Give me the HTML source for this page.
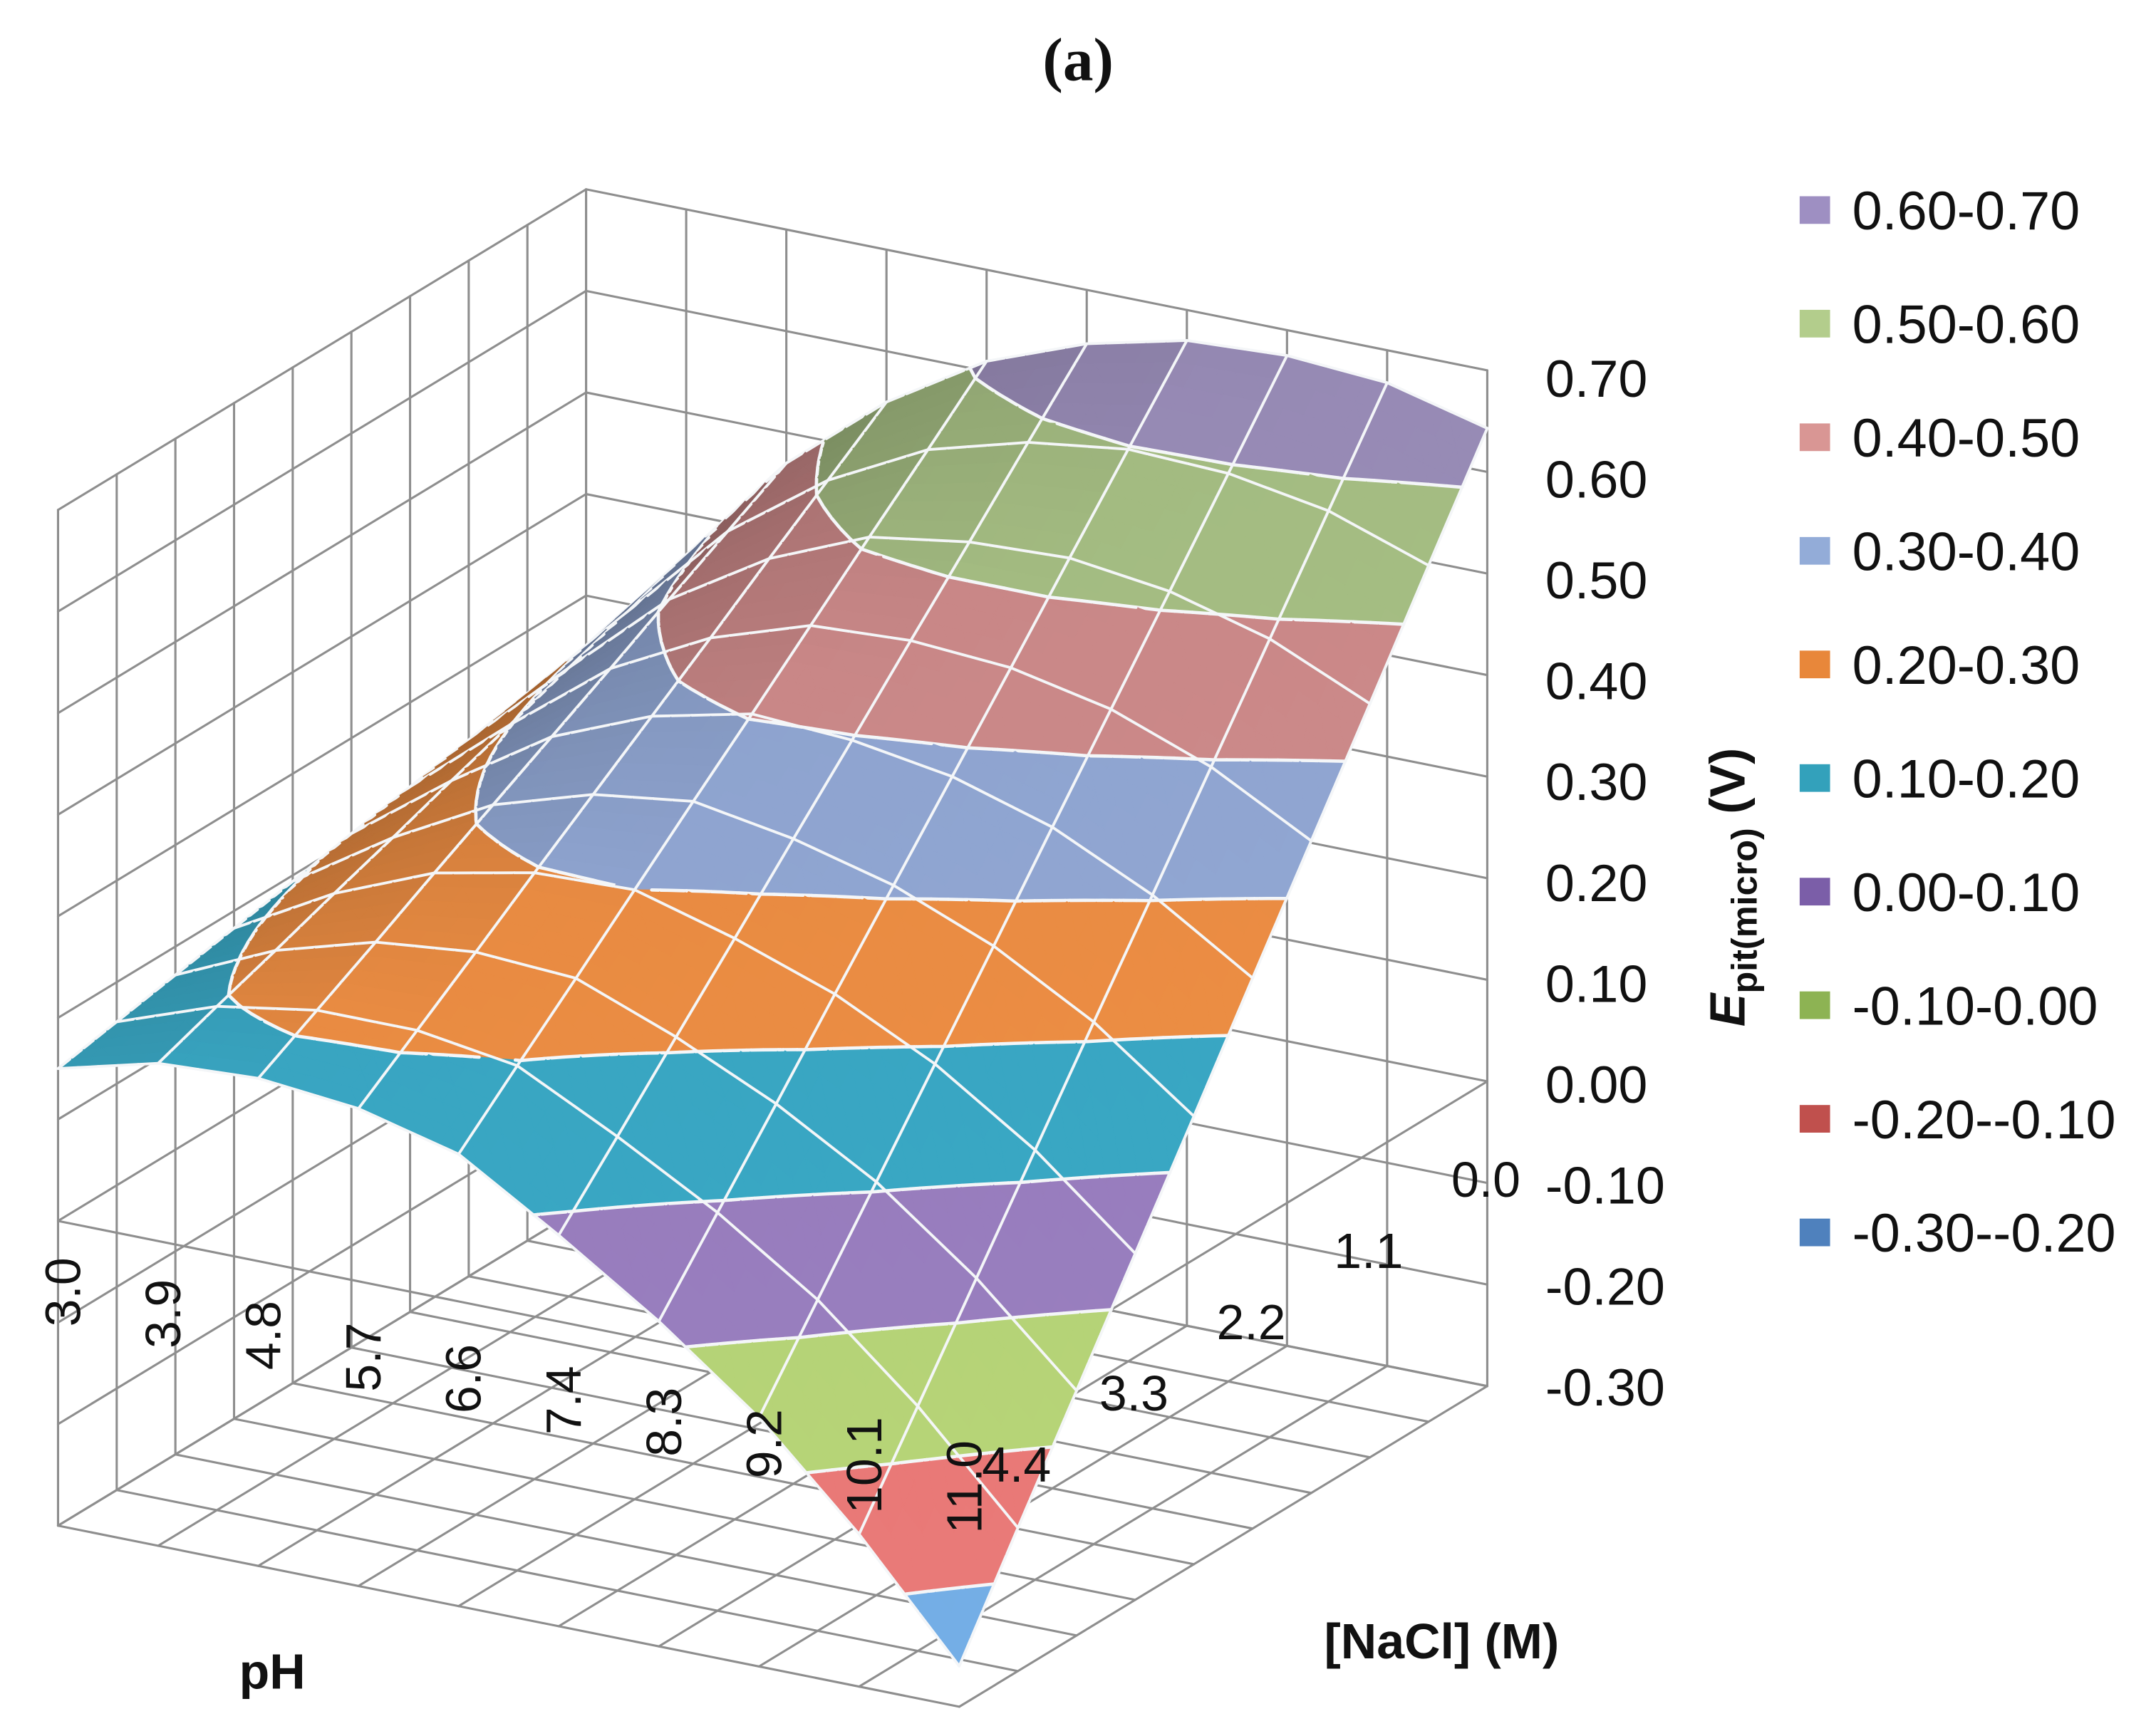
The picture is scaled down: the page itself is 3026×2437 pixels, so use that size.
<!DOCTYPE html>
<html><head><meta charset="utf-8"><title>Epit(micro) surface chart</title>
<style>
html,body{margin:0;padding:0;background:#fff;}
svg{display:block;}
text{font-family:"Liberation Sans",sans-serif;fill:#111;}
</style></head>
<body>
<svg id="chart" xmlns="http://www.w3.org/2000/svg" width="3026" height="2437" viewBox="0 0 1559.8 1256.2" preserveAspectRatio="none">
  <rect x="0" y="0" width="1559.8" height="1256.2" fill="#fff"/>
  <text x="780" y="58" text-anchor="middle" style="font-family:'Liberation Serif',serif;font-weight:bold;font-size:44px">(a)</text>
  <g id="walls"></g>
  <g id="surface"></g>
  <g id="axes"></g>
  <text transform="translate(1262,642) rotate(-90)" text-anchor="middle" style="font-weight:bold;font-size:36px"><tspan font-style="italic">E</tspan><tspan font-size="26" dy="9">pit(micro)</tspan><tspan dy="-9"> (V)</tspan></text>
  <text x="197" y="1222" text-anchor="middle" style="font-weight:bold;font-size:36px">pH</text>
  <text x="1043" y="1200" text-anchor="middle" style="font-weight:bold;font-size:36px">[NaCl] (M)</text>
  <g id="legend"></g>
</svg>
<script>
const phCategories = ['3.0','3.9','4.8','5.7','6.6','7.4','8.3','9.2','10.1','11.0'];
const naclCategories = ['0.0','0.55','1.1','1.65','2.2','2.75','3.3','3.85','4.4','4.95'];
const naclTickLabels = ['0.0','1.1','2.2','3.3','4.4'];
const zTickValues = [0.7,0.6,0.5,0.4,0.3,0.2,0.1,0.0,-0.1,-0.2,-0.3];
const bandLows = [0.6,0.5,0.4,0.3,0.2,0.1,0.0,-0.1,-0.2,-0.3];
const legendLabels = ['0.60-0.70','0.50-0.60','0.40-0.50','0.30-0.40','0.20-0.30','0.10-0.20','0.00-0.10','-0.10-0.00','-0.20--0.10','-0.30--0.20'];
const legendColors = ['#9e8fc2','#b3cd8c','#d99694','#93acd8','#e8873a','#33a1bb','#7b5ea8','#8db353','#c0504d','#4f81bd'];
const surfaceColors = ['#9c8fbb','#a9c286','#d08c8c','#93a9d6','#ef8f44','#3aa9c6','#9a7fc0','#b7d578','#ea7a78','#74aee6'];
// surface values: rows = pH categories, columns = NaCl categories
const zPH = [
 [0.250,0.239,0.228,0.217,0.206,0.194,0.183,0.172,0.161,0.150],
 [0.360,0.339,0.319,0.298,0.278,0.257,0.237,0.216,0.196,0.175],
 [0.470,0.438,0.406,0.373,0.341,0.309,0.277,0.244,0.212,0.180],
 [0.550,0.508,0.466,0.423,0.381,0.339,0.297,0.254,0.212,0.170],
 [0.610,0.558,0.507,0.455,0.403,0.352,0.300,0.248,0.197,0.145],
 [0.647,0.585,0.522,0.460,0.397,0.335,0.272,0.210,0.147,0.085],
 [0.670,0.598,0.526,0.453,0.381,0.309,0.237,0.164,0.092,0.020],
 [0.675,0.594,0.513,0.432,0.351,0.269,0.188,0.107,0.026,-0.055],
 [0.668,0.577,0.486,0.395,0.304,0.214,0.123,0.032,-0.059,-0.150],
 [0.643,0.543,0.442,0.342,0.242,0.141,0.041,-0.059,-0.159,-0.260]
];

const NS='http://www.w3.org/2000/svg';
const zMin=-0.3, zMax=0.7;
function P(u,v,z){ return [424+652*u-382*v, 872+131*u+232*v-735*(z-zMin)]; }
function uScale(i){ return i/(phCategories.length-1); }
function vScale(j){ return j/(naclCategories.length-1); }
function zAt(u,v){
  const nI=phCategories.length-1, nJ=naclCategories.length-1;
  let fi=u*nI, fj=v*nJ;
  let i=Math.min(Math.floor(fi),nI-1), j=Math.min(Math.floor(fj),nJ-1);
  const a=fi-i, b=fj-j;
  return zPH[i][j]*(1-a)*(1-b)+zPH[i+1][j]*a*(1-b)+zPH[i][j+1]*(1-a)*b+zPH[i+1][j+1]*a*b;
}
function line(parent,x1,y1,x2,y2,stroke,w,name){
  const el=document.createElementNS(NS,'line');
  el.setAttribute('x1',x1.toFixed(2));el.setAttribute('y1',y1.toFixed(2));
  el.setAttribute('x2',x2.toFixed(2));el.setAttribute('y2',y2.toFixed(2));
  el.setAttribute('stroke',stroke);el.setAttribute('stroke-width',w);
  el.setAttribute('stroke-linecap','round');
  
  
  parent.appendChild(el);
  return el;
}
const walls=document.getElementById('walls');
const GC='#8e8e8e', GW=1.6;
// left wall (u=0)
for(let j=0;j<naclCategories.length;j++){
  const a=P(0,vScale(j),zMin), b=P(0,vScale(j),zMax);
  line(walls,a[0],a[1],b[0],b[1],GC,GW,'left-wall-gridline');
}
// back wall (v=0)
for(let i=0;i<phCategories.length;i++){
  const a=P(uScale(i),0,zMin), b=P(uScale(i),0,zMax);
  line(walls,a[0],a[1],b[0],b[1],GC,GW,'back-wall-gridline');
}
for(const t of zTickValues){
  const a=P(0,1,t), b=P(0,0,t), c=P(1,0,t);
  line(walls,a[0],a[1],b[0],b[1],GC,GW,'left-wall-z-gridline');
  line(walls,b[0],b[1],c[0],c[1],GC,GW,'back-wall-z-gridline');
}
// floor
for(let i=0;i<phCategories.length;i++){
  const a=P(uScale(i),0,zMin), b=P(uScale(i),1,zMin);
  line(walls,a[0],a[1],b[0],b[1],GC,GW,'floor-gridline');
}
for(let j=0;j<naclCategories.length;j++){
  const a=P(0,vScale(j),zMin), b=P(1,vScale(j),zMin);
  line(walls,a[0],a[1],b[0],b[1],GC,GW,'floor-gridline');
}
// base plane at z=0
{
  const a=P(0,1,0), b=P(1,1,0), c=P(1,0,0);
  line(walls,a[0],a[1],b[0],b[1],GC,GW,'base-plane-edge');
  line(walls,b[0],b[1],c[0],c[1],GC,GW,'base-plane-edge');
}

// surface
const surf=document.getElementById('surface');
function hexRgb(h){return [parseInt(h.substr(1,2),16),parseInt(h.substr(3,2),16),parseInt(h.substr(5,2),16)];}
function shade(h,f){const c=hexRgb(h);return 'rgb('+c.map(x=>Math.max(0,Math.min(255,Math.round(x*f)))).join(',')+')';}
function clip(poly,lo,hi){
  function clipOne(p,lim,keepAbove){
    const out=[];
    for(let k=0;k<p.length;k++){
      const A=p[k],B=p[(k+1)%p.length];
      const ina=keepAbove?A.z>=lim:A.z<=lim, inb=keepAbove?B.z>=lim:B.z<=lim;
      if(ina) out.push(A);
      if(ina!==inb){
        const t=(lim-A.z)/(B.z-A.z);
        out.push({u:A.u+(B.u-A.u)*t,v:A.v+(B.v-A.v)*t,z:lim});
      }
    }
    return out;
  }
  let r=clipOne(poly,lo,true); if(r.length<3) return r;
  return clipOne(r,hi,false);
}
const SUB=5;
const nI=phCategories.length-1, nJ=naclCategories.length-1;
const NU=nI*SUB, NV=nJ*SUB;
const prims=[];
for(let a=0;a<NU;a++){
  for(let b=0;b<NV;b++){
    const u0=a/NU,u1=(a+1)/NU,v0=b/NV,v1=(b+1)/NV;
    const V00={u:u0,v:v0,z:zAt(u0,v0)},V10={u:u1,v:v0,z:zAt(u1,v0)},V01={u:u0,v:v1,z:zAt(u0,v1)},V11={u:u1,v:v1,z:zAt(u1,v1)};
    const dzdu=((V10.z-V00.z)+(V11.z-V01.z))/2/(u1-u0);
    const f=1-0.27*Math.max(0,Math.min(1,dzdu/0.9))-0.06*(1-(u0+v0)/2);
    const depth=u0+v0;
    prims.push({d:depth,type:'tri',pts:[V00,V10,V11],f:f});
    prims.push({d:depth,type:'tri',pts:[V00,V11,V01],f:f});
    // contour segments
    for(const tri of [[V00,V10,V11],[V00,V11,V01]]){
      for(let k=1;k<bandLows.length;k++){
        const L=bandLows[k-1]; // levels 0.6..-0.2
        const cr=[];
        for(let e=0;e<3;e++){
          const A=tri[e],B=tri[(e+1)%3];
          if((A.z-L)*(B.z-L)<0){const t=(L-A.z)/(B.z-A.z);cr.push({u:A.u+(B.u-A.u)*t,v:A.v+(B.v-A.v)*t,z:L});}
        }
        if(cr.length===2) prims.push({d:depth+0.0001,type:'seg',a:cr[0],b:cr[1],w:2.4,name:'contour-line'});
      }
    }
    if(a%SUB===0) prims.push({d:depth+0.0002,type:'seg',a:V00,b:V01,w:2,name:'mesh-line-ph'});
    if(b%SUB===0) prims.push({d:depth+0.0002,type:'seg',a:V00,b:V10,w:2,name:'mesh-line-nacl'});
    if(a===NU-1) prims.push({d:depth+0.0002,type:'seg',a:V10,b:V11,w:2,name:'mesh-line-ph'});
    if(b===NV-1) prims.push({d:depth+0.0002,type:'seg',a:V01,b:V11,w:2,name:'mesh-line-nacl'});
  }
}
prims.sort((p,q)=>p.d-q.d);
for(const pr of prims){
  if(pr.type==='tri'){
    for(let k=0;k<bandLows.length;k++){
      const lo=bandLows[k], hi=lo+0.1;
      const poly=clip(pr.pts,k===bandLows.length-1?-9:lo,k===0?9:hi);
      if(poly.length<3) continue;
      const col=shade(surfaceColors[k],pr.f);
      const el=document.createElementNS(NS,'polygon');
      el.setAttribute('points',poly.map(p=>{const s=P(p.u,p.v,p.z);return s[0].toFixed(2)+','+s[1].toFixed(2);}).join(' '));
      el.setAttribute('fill',col);el.setAttribute('stroke',col);el.setAttribute('stroke-width','0.6');
      
      
      surf.appendChild(el);
    }
  } else {
    const s=P(pr.a.u,pr.a.v,pr.a.z), e=P(pr.b.u,pr.b.v,pr.b.z);
    line(surf,s[0],s[1],e[0],e[1],'#f4f6f8',pr.w,pr.name);
  }
}

// axes labels
const axes=document.getElementById('axes');
function txt(parent,x,y,s,size,anchor,rot,name){
  const el=document.createElementNS(NS,'text');
  if(rot){el.setAttribute('transform','translate('+x.toFixed(1)+','+y.toFixed(1)+') rotate('+rot+')');}
  else{el.setAttribute('x',x.toFixed(1));el.setAttribute('y',y.toFixed(1));}
  el.setAttribute('text-anchor',anchor);
  el.setAttribute('style','font-size:'+size+'px');
  el.textContent=s;
  
  
  parent.appendChild(el);
  return el;
}
for(let k=0;k<zTickValues.length;k++){
  const t=zTickValues[k];
  const y=274+(0.7-t)*730;
  txt(axes,1118,y+13,t.toFixed(2),38,'start',0,'z-tick-label');
}
for(let i=0;i<phCategories.length;i++){
  const u=uScale(i); const f=P(u,1,zMin);
  txt(axes,f[0]+3+13,f[1]-169+10*u,phCategories[i],36,'middle',-90,'ph-tick-label');
}
for(let k=0;k<naclTickLabels.length;k++){
  const v=vScale(k*2); const f=P(1,v,zMin);
  txt(axes,f[0]-1,f[1]-150+13,naclTickLabels[k],36,'middle',0,'nacl-tick-label');
}
// legend
const leg=document.getElementById('legend');
for(let k=0;k<legendLabels.length;k++){
  const y=152+k*82.2;
  const r=document.createElementNS(NS,'rect');
  r.setAttribute('x','1302');r.setAttribute('y',(y-10).toFixed(1));
  r.setAttribute('width','22');r.setAttribute('height','20');
  r.setAttribute('fill',legendColors[k]);
  
  
  leg.appendChild(r);
  txt(leg,1340,y+14,legendLabels[k],39,'start',0,'legend-entry');
}
</script>
</body></html>
